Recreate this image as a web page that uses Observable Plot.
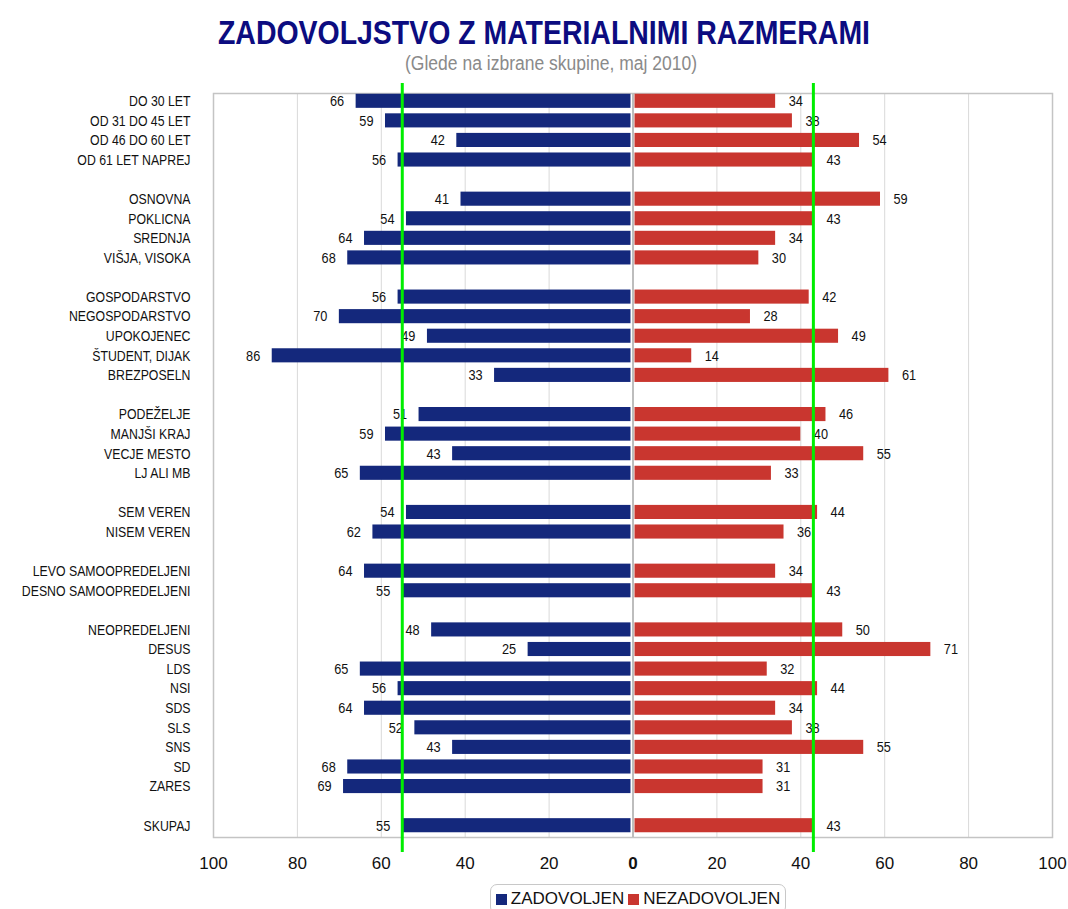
<!DOCTYPE html>
<html>
<head>
<meta charset="utf-8">
<script src="https://cdn.jsdelivr.net/npm/d3@7"></script>
<script src="https://cdn.jsdelivr.net/npm/@observablehq/plot@0.6"></script>
<style>
  html, body { margin: 0; padding: 0; background: #fff; }
  body { position: relative; width: 1068px; height: 909px; overflow: hidden; font-family: "Liberation Sans", Arial, sans-serif; }
  .hdr { position: absolute; left: 0; white-space: nowrap; line-height: 1; transform-origin: 0 50%; }
  #title { top: 15px; font-weight: bold; font-size: 34px; color: #0c0c80; }
  #subtitle { top: 53px; font-size: 20px; color: #8a8a8a; }
  #chart { position: absolute; top: 75px; left: 0; }
  #legend { position: absolute; top: 884px; left: 490px; width: 296px; height: 30px; box-sizing: border-box; border: 1px solid #c8c8c8; border-radius: 7px; display: flex; align-items: center; justify-content: center; font-size: 17px; color: #111; gap: 2px; }
  .sw { display: inline-block; width: 11px; height: 11px; margin-right: 2px; }
</style>
</head>
<body>
<div id="title" class="hdr">ZADOVOLJSTVO Z MATERIALNIMI RAZMERAMI</div>
<div id="subtitle" class="hdr">(Glede na izbrane skupine, maj 2010)</div>
<div id="chart"></div>
<div id="legend"><span class="sw" style="background:#14287c"></span><span>ZADOVOLJEN</span><span class="sw" style="background:#c9362f;margin-left:2px"></span><span>NEZADOVOLJEN</span></div>
<script>
// Categories ("" marks an empty spacer row between groups)
const categories = [
  "DO 30 LET", "OD 31 DO 45 LET", "OD 46 DO 60 LET", "OD 61 LET NAPREJ", "",
  "OSNOVNA", "POKLICNA", "SREDNJA", "VIŠJA, VISOKA", "",
  "GOSPODARSTVO", "NEGOSPODARSTVO", "UPOKOJENEC", "ŠTUDENT, DIJAK", "BREZPOSELN", "",
  "PODEŽELJE", "MANJŠI KRAJ", "VECJE MESTO", "LJ ALI MB", "",
  "SEM VEREN", "NISEM VEREN", "",
  "LEVO SAMOOPREDELJENI", "DESNO SAMOOPREDELJENI", "",
  "NEOPREDELJENI", "DESUS", "LDS", "NSI", "SDS", "SLS", "SNS", "SD", "ZARES", "",
  "SKUPAJ"
];
// ZADOVOLJEN (%)
const satisfied = [
  66, 59, 42, 56, null,
  41, 54, 64, 68, null,
  56, 70, 49, 86, 33, null,
  51, 59, 43, 65, null,
  54, 62, null,
  64, 55, null,
  48, 25, 65, 56, 64, 52, 43, 68, 69, null,
  55
];
// NEZADOVOLJEN (%)
const unsatisfied = [
  34, 38, 54, 43, null,
  59, 43, 34, 30, null,
  42, 28, 49, 14, 61, null,
  46, 40, 55, 33, null,
  44, 36, null,
  34, 43, null,
  50, 71, 32, 44, 34, 38, 55, 31, 31, null,
  43
];
const xTicks = [-100, -80, -60, -40, -20, 0, 20, 40, 60, 80, 100];
const totalLabel = "SKUPAJ";

const rows = categories.map((c, i) => ({key: String(i), cat: c, sat: satisfied[i], unsat: unsatisfied[i]}));
const dataRows = rows.filter(d => d.sat != null);
const total = rows.find(d => d.cat === totalLabel);

const BLUE = "#14287c", RED = "#c9362f";

const chart = Plot.plot({
  width: 1068,
  height: 803,
  marginLeft: 213,
  marginRight: 16,
  marginTop: 18,
  marginBottom: 41,
  style: {fontFamily: "'Liberation Sans', Arial, sans-serif", background: "#fff", overflow: "visible"},
  x: {domain: [-100, 100]},
  y: {domain: rows.map(d => d.key), paddingInner: 0.28, paddingOuter: 0.14, insetTop: -2, insetBottom: 2, round: false, label: null},
  marks: [
    Plot.gridX(xTicks, {stroke: "#d9d9d9", strokeOpacity: 1, strokeWidth: 1}),
    Plot.frame({stroke: "#c4c4c4", strokeWidth: 1.5}),
    Plot.barX(dataRows, {y: "key", x1: 0, x2: d => -d.sat, fill: BLUE, insetRight: 2}),
    Plot.barX(dataRows, {y: "key", x1: 0, x2: d => d.unsat, fill: RED, insetLeft: 2}),
    Plot.ruleX([0], {stroke: "#bdbdbd", strokeWidth: 2}),
    Plot.text(dataRows, {y: "key", x: d => -d.sat, text: d => String(d.sat), textAnchor: "end", dx: -12, fontSize: 15, fill: "#111"}),
    Plot.text(dataRows, {y: "key", x: d => d.unsat, text: d => String(d.unsat), textAnchor: "start", dx: 13, fontSize: 15, fill: "#111"}),
    Plot.ruleX([-total.sat, total.unsat], {stroke: "#00ee00", strokeWidth: 3, insetTop: -10, insetBottom: -15}),
    Plot.axisY({tickSize: 0, tickPadding: 23, fontSize: 15, tickFormat: k => categories[+k], fill: "#111", label: null}),
    Plot.axisX({ticks: xTicks, tickSize: 0, tickPadding: 19, fontSize: 17, tickFormat: d => String(Math.abs(d)), fill: "#111", label: null})
  ]
});
document.getElementById("chart").appendChild(chart);

// narrow the glyphs horizontally (reference uses a condensed face); y stays untouched
function condense(t, sx) {
  const x = t.getAttribute("x");
  let tr = t.getAttribute("transform") || "";
  if (x != null && /^-?[\d.]+$/.test(x)) {
    tr += ` translate(${x},0)`;
    t.removeAttribute("x");
  }
  t.setAttribute("transform", (tr + ` scale(${sx},1)`).trim());
}
const catSet = new Set(categories.filter(c => c));
chart.querySelectorAll("text").forEach(t => {
  const g = t.closest("g[aria-label]");
  const lab = g ? g.getAttribute("aria-label") : "";
  const s = t.textContent;
  if (/x-axis/.test(lab)) {
    if (s === "0") t.setAttribute("font-weight", "bold");
  } else if (catSet.has(s)) {
    condense(t, 0.82);
  } else if (/^\d+$/.test(s)) {
    condense(t, 0.85);
  }
});

// fit header texts to the reference widths / centres
function fit(id, width, center) {
  const el = document.getElementById(id);
  const w = el.getBoundingClientRect().width;
  const s = width / w;
  el.style.left = (center - width / 2) + "px";
  el.style.transform = `scaleX(${s})`;
}
fit("title", 652, 544);
fit("subtitle", 292, 551);
</script>
</body>
</html>
